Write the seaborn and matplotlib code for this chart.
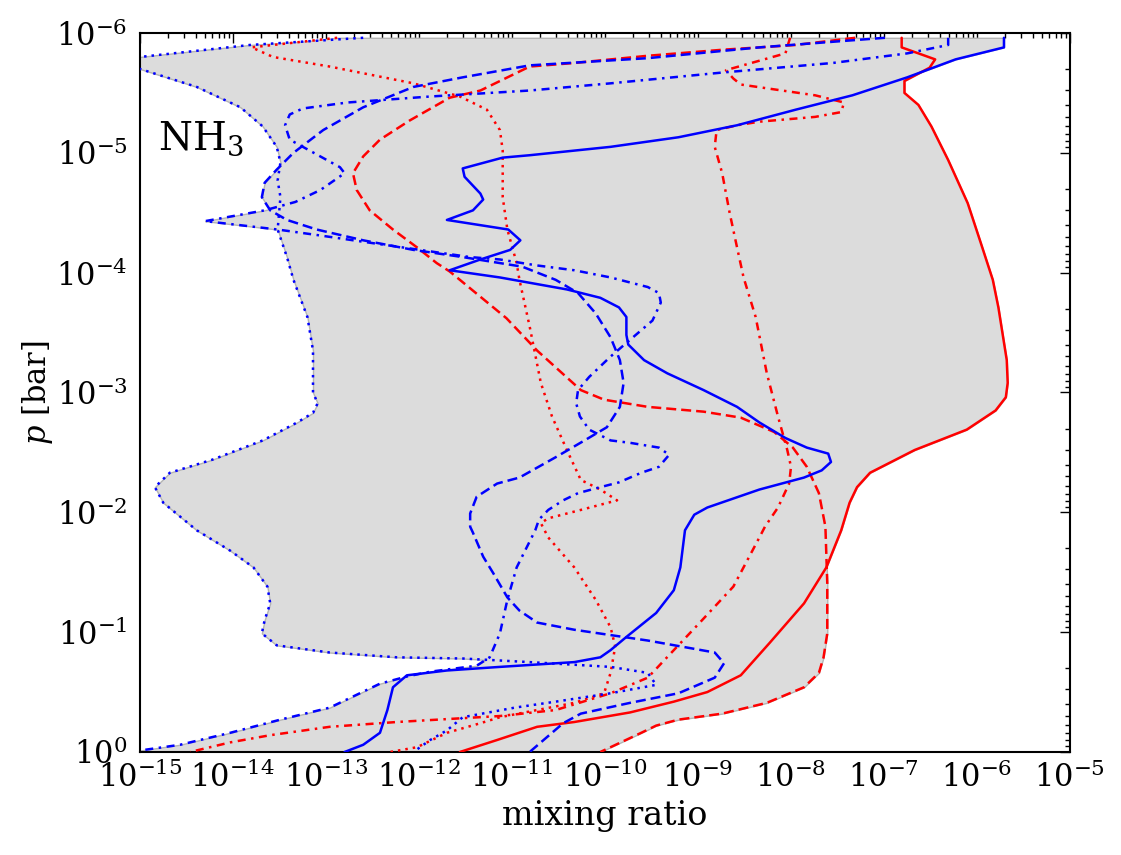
import numpy as np
import pandas as pd
import matplotlib
matplotlib.use('Agg')
import matplotlib.pyplot as plt
from matplotlib.ticker import LogLocator, NullFormatter
import seaborn as sns

# NH3 profiles, pairs of (log10 p [bar], log10 mixing ratio)
# two model families (red / blue), four cases each (solid, dashed, dotted, dash-dot)
red_solid = [(-5.96, -6.81), (-5.88, -6.81), (-5.78, -6.45), (-5.71, -6.51), (-5.60, -6.78),
             (-5.50, -6.78), (-5.40, -6.63), (-5.22, -6.49), (-4.94, -6.31), (-4.58, -6.10),
             (-4.25, -5.96), (-3.94, -5.83), (-3.71, -5.77), (-3.27, -5.68), (-3.08, -5.67),
             (-2.96, -5.69), (-2.85, -5.80), (-2.69, -6.11), (-2.52, -6.67), (-2.33, -7.15),
             (-2.21, -7.29), (-2.08, -7.37), (-1.85, -7.46), (-1.54, -7.62), (-1.24, -7.86),
             (-0.91, -8.23), (-0.64, -8.54), (-0.50, -8.90), (-0.42, -9.26), (-0.33, -9.73),
             (-0.25, -10.33), (-0.21, -10.73), (-0.10, -11.16), (0.0, -11.56)]

red_dashed = [(-5.96, -7.31), (-5.90, -7.95), (-5.86, -8.74), (-5.81, -9.54), (-5.75, -10.33),
              (-5.72, -10.81), (-5.52, -11.34), (-5.46, -11.67), (-5.27, -12.10), (-5.11, -12.42),
              (-4.97, -12.60), (-4.83, -12.71), (-4.69, -12.67), (-4.52, -12.53), (-4.36, -12.28),
              (-4.21, -12.02), (-4.08, -11.81), (-4.01, -11.67), (-3.62, -11.06), (-3.35, -10.73),
              (-3.02, -10.26), (-2.94, -10.01), (-2.88, -9.54), (-2.84, -8.94), (-2.79, -8.54),
              (-2.67, -8.18), (-2.54, -7.98), (-2.38, -7.83), (-2.16, -7.70), (-1.88, -7.63),
              (-1.41, -7.61), (-0.99, -7.61), (-0.79, -7.65), (-0.66, -7.70), (-0.54, -7.86),
              (-0.41, -8.26), (-0.32, -8.74), (-0.27, -9.21), (-0.22, -9.45), (-0.16, -9.61),
              (-0.04, -9.94), (0.0, -10.05)]

red_dotted = [(-5.96, -12.88), (-5.88, -13.80), (-5.80, -13.57), (-5.72, -12.96), (-5.58, -12.06),
              (-5.47, -11.56), (-5.36, -11.27), (-5.19, -11.13), (-5.02, -11.10), (-4.63, -11.10),
              (-4.36, -11.05), (-4.08, -10.95), (-3.94, -10.92), (-3.55, -10.81), (-3.08, -10.69),
              (-2.80, -10.57), (-2.52, -10.41), (-2.27, -10.26), (-2.19, -10.05), (-2.10, -9.87),
              (-2.02, -10.26), (-1.95, -10.61), (-1.91, -10.69), (-1.79, -10.61), (-1.54, -10.33),
              (-1.27, -10.10), (-1.04, -9.94), (-0.88, -9.89), (-0.66, -9.94), (-0.49, -10.01),
              (-0.41, -10.33), (-0.35, -10.73), (-0.29, -11.13), (-0.24, -11.34), (-0.16, -11.70),
              (-0.04, -12.02), (0.0, -12.31)]

red_dashdot = [(-5.96, -8.01), (-5.83, -8.06), (-5.69, -8.70), (-5.62, -8.62), (-5.57, -8.54),
               (-5.48, -7.74), (-5.42, -7.43), (-5.34, -7.46), (-5.30, -7.74), (-5.26, -8.34),
               (-5.23, -8.58), (-5.19, -8.80), (-5.05, -8.82), (-4.83, -8.74), (-4.50, -8.66),
               (-4.21, -8.58), (-3.96, -8.51), (-3.63, -8.38), (-3.16, -8.26), (-2.80, -8.14),
               (-2.52, -8.04), (-2.38, -8.00), (-2.24, -8.02), (-2.04, -8.14), (-1.88, -8.28),
               (-1.79, -8.34), (-1.38, -8.62), (-1.08, -8.98), (-0.85, -9.26), (-0.62, -9.54),
               (-0.49, -9.94), (-0.35, -10.53), (-0.30, -11.13), (-0.25, -12.24), (-0.21, -12.96),
               (-0.14, -13.60), (-0.08, -14.03), (0.0, -14.46)]

blue_solid = [(-5.96, -5.71), (-5.88, -5.71), (-5.78, -6.23), (-5.63, -6.75), (-5.48, -7.34),
              (-5.36, -7.95), (-5.23, -8.58), (-5.13, -9.21), (-5.05, -9.94), (-4.98, -10.81),
              (-4.96, -11.10), (-4.87, -11.53), (-4.80, -11.51), (-4.66, -11.34), (-4.61, -11.31),
              (-4.52, -11.42), (-4.44, -11.70), (-4.36, -11.04), (-4.27, -10.91), (-4.19, -11.02),
              (-4.11, -11.34), (-4.02, -11.67), (-3.96, -11.13), (-3.86, -10.41), (-3.79, -10.05),
              (-3.71, -9.85), (-3.63, -9.77), (-3.48, -9.77), (-3.40, -9.75), (-3.27, -9.58),
              (-3.16, -9.33), (-3.02, -8.94), (-2.88, -8.58), (-2.75, -8.34), (-2.62, -8.06),
              (-2.54, -7.83), (-2.49, -7.60), (-2.42, -7.57), (-2.35, -7.67), (-2.29, -7.86),
              (-2.19, -8.34), (-2.04, -8.90), (-1.98, -9.04), (-1.85, -9.14), (-1.54, -9.19),
              (-1.35, -9.26), (-1.16, -9.45), (-0.96, -9.77), (-0.85, -9.94), (-0.79, -10.05),
              (-0.75, -10.33), (-0.71, -11.13), (-0.68, -11.70), (-0.64, -12.13), (-0.54, -12.28),
              (-0.35, -12.34), (-0.16, -12.42), (-0.06, -12.60), (0.0, -12.80)]

blue_dashed = [(-5.96, -6.99), (-5.88, -8.34), (-5.79, -9.54), (-5.73, -10.81), (-5.63, -11.53),
               (-5.55, -12.06), (-5.38, -12.60), (-5.19, -13.03), (-5.00, -13.35), (-4.86, -13.53),
               (-4.75, -13.66), (-4.63, -13.69), (-4.52, -13.60), (-4.44, -13.42), (-4.36, -13.10),
               (-4.27, -12.60), (-4.19, -12.06), (-4.13, -11.53), (-4.08, -11.13), (-4.05, -10.89),
               (-3.94, -10.53), (-3.83, -10.29), (-3.66, -10.10), (-3.46, -9.94), (-3.27, -9.84),
               (-3.08, -9.80), (-2.88, -9.84), (-2.71, -9.98), (-2.60, -10.22), (-2.46, -10.53),
               (-2.29, -10.92), (-2.24, -11.16), (-2.13, -11.38), (-1.99, -11.45), (-1.88, -11.45),
               (-1.83, -11.42), (-1.63, -11.31), (-1.49, -11.20), (-1.29, -11.05), (-1.18, -10.92),
               (-1.08, -10.73), (-1.02, -10.33), (-0.93, -9.54), (-0.83, -8.82), (-0.74, -8.72),
               (-0.62, -8.82), (-0.49, -9.21), (-0.41, -9.73), (-0.32, -10.26), (-0.24, -10.45),
               (-0.10, -10.66), (0.0, -10.81)]

blue_dotted = [(-5.96, -12.60), (-5.90, -13.82), (-5.80, -15.00), (-5.75, -15.45), (-5.70, -15.00),
               (-5.55, -14.39), (-5.38, -13.92), (-5.22, -13.68), (-5.05, -13.53), (-4.92, -13.49),
               (-4.77, -13.52), (-4.63, -13.49), (-4.36, -13.52), (-4.13, -13.42), (-3.94, -13.35),
               (-3.63, -13.20), (-3.35, -13.14), (-3.00, -13.14), (-2.91, -13.09), (-2.83, -13.14),
               (-2.75, -13.31), (-2.60, -13.68), (-2.44, -14.22), (-2.33, -14.68), (-2.21, -14.84),
               (-2.08, -14.75), (-1.85, -14.39), (-1.68, -14.03), (-1.54, -13.78), (-1.38, -13.63),
               (-1.24, -13.60), (-1.10, -13.66), (-0.99, -13.69), (-0.89, -13.53), (-0.83, -12.96),
               (-0.79, -12.24), (-0.78, -11.53), (-0.75, -10.81), (-0.71, -9.94), (-0.66, -9.54),
               (-0.56, -9.45), (-0.49, -9.94), (-0.42, -10.53), (-0.37, -10.97), (-0.29, -11.53),
               (-0.18, -11.70), (-0.10, -11.88), (0.0, -12.06)]

blue_dashdot = [(-5.96, -6.31), (-5.90, -6.31), (-5.83, -6.75), (-5.75, -7.55), (-5.67, -8.74),
                (-5.58, -9.94), (-5.52, -10.81), (-5.47, -11.88), (-5.42, -12.77), (-5.37, -13.25),
                (-5.32, -13.39), (-5.23, -13.44), (-5.11, -13.39), (-4.88, -12.85), (-4.83, -12.80),
                (-4.69, -13.06), (-4.59, -13.33), (-4.52, -13.66), (-4.43, -14.30), (-4.36, -13.52),
                (-4.31, -13.06), (-4.25, -12.53), (-4.19, -11.99), (-4.13, -11.45), (-4.11, -11.13),
                (-4.06, -10.73), (-4.02, -10.33), (-3.96, -9.94), (-3.88, -9.54), (-3.83, -9.42),
                (-3.75, -9.40), (-3.60, -9.49), (-3.44, -9.73), (-3.30, -9.94), (-3.13, -10.17),
                (-3.02, -10.29), (-2.91, -10.31), (-2.80, -10.27), (-2.69, -10.17), (-2.60, -9.94),
                (-2.58, -9.73), (-2.54, -9.42), (-2.48, -9.31), (-2.38, -9.42), (-2.33, -9.61),
                (-2.25, -9.85), (-2.21, -10.05), (-2.16, -10.29), (-2.10, -10.45), (-2.02, -10.61),
                (-1.94, -10.71), (-1.85, -10.75), (-1.54, -10.95), (-1.27, -11.05), (-0.99, -11.13),
                (-0.79, -11.24), (-0.72, -11.38), (-0.67, -11.88), (-0.63, -12.13), (-0.57, -12.42),
                (-0.37, -12.96), (-0.27, -13.49), (-0.16, -14.03), (-0.06, -14.57), (0.0, -15.11)]

profiles = {
    ('red', 'solid'): red_solid,
    ('red', 'dashed'): red_dashed,
    ('red', 'dotted'): red_dotted,
    ('red', 'dashdot'): red_dashdot,
    ('blue', 'solid'): blue_solid,
    ('blue', 'dashed'): blue_dashed,
    ('blue', 'dotted'): blue_dotted,
    ('blue', 'dashdot'): blue_dashdot,
}

# long table for seaborn
rows = []
for (model, case), prof in profiles.items():
    for lp, lx in prof:
        rows.append({'model': model, 'case': case, 'p': 10**lp, 'ratio': 10**lx})
df = pd.DataFrame(rows)

# spread of all runs: min/max envelope on a common pressure grid
grid = np.union1d(np.linspace(-5.96, 0, 800),
                  np.concatenate([np.array(p)[:, 0] for p in profiles.values()]))
curves = []
for prof in profiles.values():
    arr = np.array(prof)
    curves.append(np.interp(grid, arr[:, 0], arr[:, 1]))
curves = np.array(curves)
env_lo = curves.min(axis=0)
env_hi = curves.max(axis=0)

sns.set_style('white')
plt.rcParams['font.family'] = ['DejaVu Serif']
plt.rcParams['mathtext.fontset'] = 'dejavuserif'
plt.rcParams['axes.unicode_minus'] = False
plt.rcParams['text.color'] = 'black'
plt.rcParams['axes.labelcolor'] = 'black'
plt.rcParams['xtick.color'] = 'black'
plt.rcParams['ytick.color'] = 'black'

fig, ax = plt.subplots(figsize=(11.21, 8.55), dpi=100)
fig.subplots_adjust(left=0.1249, right=0.9545, top=0.9614, bottom=0.1205)

ax.set_xscale('log')
ax.set_yscale('log')

ax.fill_betweenx(10**grid, 10**env_lo, 10**env_hi, facecolor='#dcdcdc',
                 edgecolor='#b4b4b4', linewidth=1.0, zorder=1)

sns.lineplot(data=df, x='ratio', y='p', hue='model', style='case',
             palette={'red': '#ff0000', 'blue': '#0000ff'},
             dashes={'solid': '', 'dashed': (4.0, 2.0), 'dotted': (1, 2.0),
                     'dashdot': (3.2, 2.2, 1, 2.2)},
             estimator=None, sort=False, linewidth=1.8, legend=False, ax=ax, zorder=3)

ax.set_xlim(1e-15, 1e-5)
ax.set_ylim(1, 1e-6)

ax.xaxis.set_major_locator(LogLocator(base=10, numticks=20))
ax.yaxis.set_major_locator(LogLocator(base=10, numticks=20))
ax.xaxis.set_minor_locator(LogLocator(base=10, subs=np.arange(2, 10), numticks=200))
ax.yaxis.set_minor_locator(LogLocator(base=10, subs=np.arange(2, 10), numticks=200))
ax.xaxis.set_minor_formatter(NullFormatter())
ax.yaxis.set_minor_formatter(NullFormatter())

ax.tick_params(which='both', direction='in', top=True, right=True, labelsize=22, width=1.0)
ax.tick_params(which='major', length=7)
ax.tick_params(which='minor', length=3.5)
ax.tick_params(axis='x', which='major', pad=7)
ax.tick_params(axis='y', which='major', pad=9)
for s in ax.spines.values():
    s.set_linewidth(1.5)
    s.set_color('black')

ax.set_xlabel('mixing ratio', fontsize=24)
ax.set_ylabel('$p$ [bar]', fontsize=22, labelpad=1)
ax.text(0.019, 0.837, 'NH$_3$', transform=ax.transAxes, fontsize=28, va='baseline', ha='left')

fig.savefig('out.png', dpi=100)
